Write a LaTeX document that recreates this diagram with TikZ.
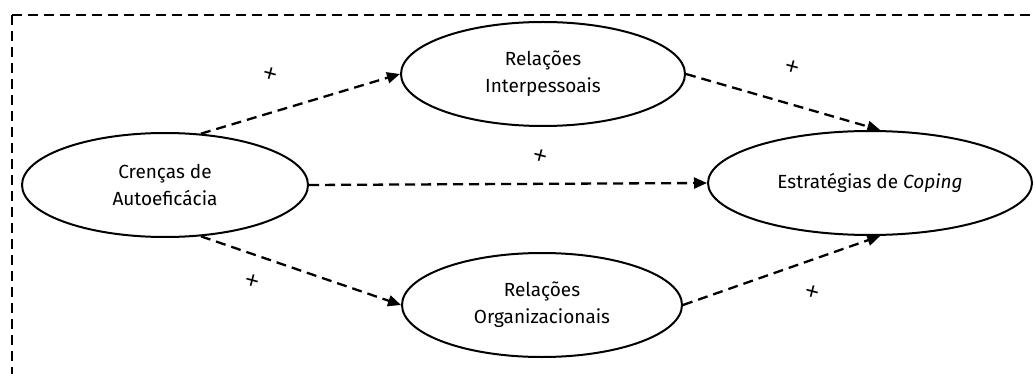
\documentclass[tikz,border=0pt]{standalone}
\usepackage{fontspec}
\setmainfont{Fira Sans}
\newfontfamily\signfont{Liberation Sans}
\usetikzlibrary{arrows.meta,shapes.geometric}
\begin{document}
\begin{tikzpicture}[x=1pt,y=-1pt,
  construct/.style={ellipse, draw, line width=2pt, minimum width=#1,
    minimum height=104pt, inner sep=0pt, align=center,
    font=\fontsize{19}{27}\selectfont},
  link/.style={line width=2.3pt, dash pattern=on 10pt off 6pt,
    -{Triangle[length=13pt,width=11pt]}},
  sign/.style={font=\signfont\fontsize{24}{24}\selectfont, rotate=-15, inner sep=0pt},
  frame/.style={line width=2.4pt, dash pattern=on 10pt off 6pt}]
  \useasboundingbox (0,0) rectangle (1035,374);

  % open dashed frame (top and left edges)
  \coordinate (tl) at (12,15);
  \coordinate (tr) at (1040,15);
  \coordinate (bl) at (12,380);
  \draw[frame] (tl) -- (tr);
  \draw[frame] (tl) -- (bl);

  % constructs
  \node[construct=286pt] (cre) at (165,185) {Crenças de\\Autoeficácia};
  \node[construct=284pt] (int) at (543,74) {Relações\\Interpessoais};
  \node[construct=280pt] (org) at (542,305) {Relações\\Organizacionais};
  \node[construct=324pt] (est) at (870,183) {Estratégias de \textit{Coping}};

  % hypothesised paths
  \draw[link] (cre.55) -- (int.west);
  \draw[link] (cre.east) -- (est.west);
  \draw[link] (cre.-55) -- (org.west);
  \draw[link] (int.east) -- (est.79);
  \draw[link] (org.east) -- (est.-79);

  % signs of the effects
  \node[sign] (s1) at (270,75) {+};
  \node[sign] (s2) at (540,157) {+};
  \node[sign] (s3) at (252,282) {+};
  \node[sign] (s4) at (792,68) {+};
  \node[sign] (s5) at (812,293) {+};
\end{tikzpicture}
\end{document}
